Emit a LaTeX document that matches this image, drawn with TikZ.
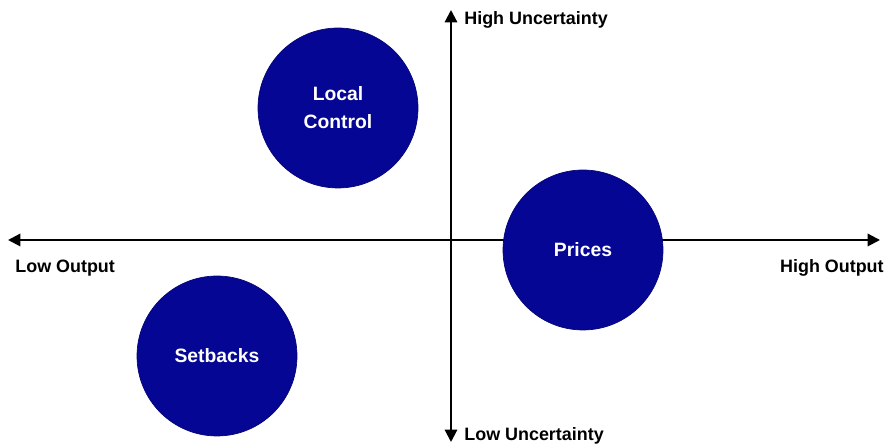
\documentclass[tikz,border=0pt]{standalone}
\usepackage{fontspec}
\setmainfont{Liberation Sans}
\usetikzlibrary{arrows.meta,positioning,calc}

\definecolor{bubbleblue}{RGB}{6,6,148}

\begin{document}
\begin{tikzpicture}[x=0.02cm,y=-0.02cm,
  axis/.style={line width=1.2pt,-{Triangle[width=7pt,length=7pt]}},
  bubble/.style={circle,draw=bubbleblue!80!black,fill=bubbleblue,minimum size=3.2cm,inner sep=0pt,
    text=white,font=\fontsize{11}{16}\selectfont\bfseries,align=center},
  axislabel/.style={font=\fontsize{10.2}{12}\selectfont\bfseries,inner sep=0pt}]
\useasboundingbox (0,0) rectangle (886,448);

% axis ends
\coordinate (left_end) at (8,240);
\coordinate (right_end) at (880,240);
\coordinate (top_end) at (451,10);
\coordinate (bottom_end) at (451,442);
\coordinate (origin) at (451,240);

% axes
\draw[axis] (origin) -- (left_end);
\draw[axis] (origin) -- (right_end);
\draw[axis] (origin) -- (top_end);
\draw[axis] (origin) -- (bottom_end);

% axis labels
\node[axislabel,anchor=west,name=low_output] at (15,268) {Low Output};
\node[axislabel,anchor=east,name=high_output] at (884,268) {High Output};
\node[axislabel,anchor=west,name=high_unc] at (464,20) {High Uncertainty};
\node[axislabel,anchor=west,name=low_unc] at (464,436) {Low Uncertainty};

% bubbles
\node[bubble,name=local] at (338,108) {Local\\Control};
\node[bubble,name=prices] at (583,250) {Prices};
\node[bubble,name=setbacks] at (217,356) {Setbacks};
\end{tikzpicture}
\end{document}
